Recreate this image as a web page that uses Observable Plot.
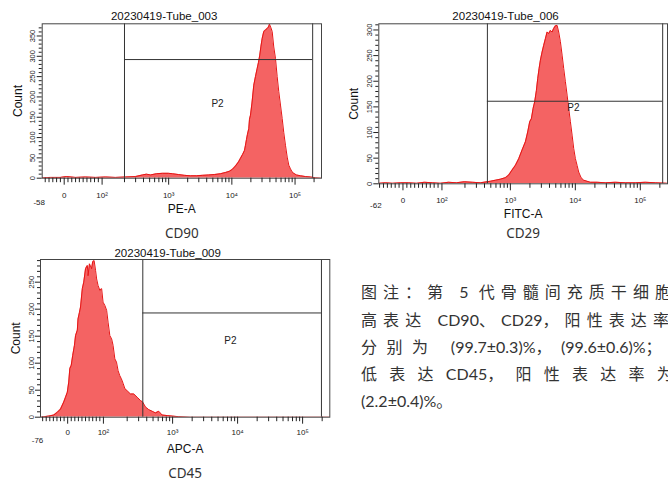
<!DOCTYPE html>
<html><head><meta charset="utf-8">
<script src="https://cdn.jsdelivr.net/npm/d3@7"></script>
<script src="https://cdn.jsdelivr.net/npm/@observablehq/plot@0.6"></script>
<style>
html,body{margin:0;padding:0;background:#fff;}
#root{position:relative;width:668px;height:480px;overflow:hidden;background:#fff;}
.panel{position:absolute;}
.cap{position:absolute;left:361px;width:max-content;white-space:pre;font-family:"Lato","Noto Sans CJK SC",sans-serif;font-size:16px;color:#333;line-height:20px;}
</style></head><body><div id="root"></div>
<script>
// ---------------- data ----------------
const cd90X = [-57,-36,-10,6,30,56,83,109,144,207,299,385,446,516,642,799,994,1150,1430,1780,2215,2757,3430,4268,5312,6610,7929,9174,10233,11413,12733,13699,14731,15843,16432,17040,17670,18530,19011,19715,20826,22233,23650,25170,26390,27670,28900,30200,32000,34050,35970,37990,39400,41600,43460,46070,49020,52150,55270,58820,62580,66330,70570,75090,79600,84680,89410,95480,105340,121900,146200,175500,209800,262000];
const cd90Count = [1,2,2,4,2,3,2,3,2,3,4,8,10,8,11,12,12,11,9,7,6,6,7,8,9,11,14,17,22,30,40,49,58,68,81,95,108,122,145,155,185,229,250,270,285,303,325,344,361,365,368,372,379,370,361,323,295,250,213,180,147,112,81,52,32,23,16,12,8,6,4,3,1,0];

const cd29X = [-61,-45,-27,-6,14,35,55,76,96,117,148,196,261,346,439,493,589,703,839,943,1064,1196,1345,1516,1705,1849,1985,2108,2239,2370,2517,2636,2770,2900,3080,3260,3462,3677,3891,4133,4390,4645,4933,5240,5545,5890,6255,6620,7031,7468,7904,8395,8917,9434,10020,10640,11260,12260,13450,17040,21610,29000,41330,58900,83900,119600,170400,258000];
const cd29Count = [1,2,1,2,2,1,3,2,1,3,2,4,3,2,4,5,7,9,12,17,27,36,49,66,82,101,121,127,147,160,182,205,225,241,257,270,283,296,293,299,296,303,308,309,296,277,251,225,199,173,147,121,95,69,49,36,23,12,7,3,3,2,3,2,2,3,2,1];

const cd45X = [-76,-53,-39,-29,-20,-11,-6,-1,3,6,10,14,19,22,27,29,33,36,41,45,50,55,57,61,67,70,74,78,81,85,90,95,99,104,109,113,118,123,127,132,137,145,154,163,174,184,200,225,253,285,320,347,382,430,485,545,612,691,825,984,1244,1883,262000];
const cd45Count = [0,2,4,9,15,28,37,46,65,90,96,114,133,151,161,182,194,204,238,250,275,281,262,284,275,288,290,272,256,244,235,238,213,207,198,176,151,145,133,108,102,86,77,71,62,53,49,43,43,37,31,28,19,14,11,8,11,4,3,2,1,0,0];

const titles = ["20230419-Tube_003","20230419-Tube_006","20230419-Tube_009"];
const xLabels = ["PE-A","FITC-A","APC-A"];
const markers = ["CD90","CD29","CD45"];
const xMins = [-58,-62,-76];
const xMax = 262143;
const yMaxes = [380,312,292];
const gateXs = [[200,190000],[443,221000],[348,195000]];
const gateYs = [292,161,193];
const p2Pos = [[5924,184],[9333,149],[7762,142]];
const majorX = [0,100,1000,10000,100000];
const majorXLabels = ["0","10\u00B2","10\u00B3","10\u2074","10\u2075"];
const yMajorTicks = [[0,50,100,150,200,250,300,350],[0,50,100,150,200,250,300],[0,50,100,150,200,250]];
const captionLines = ["图注：第 5 代骨髓间充质干细胞","高表达 CD90、CD29，阳性表达率","分别为 (99.7±0.3)%，(99.6±0.6)%；","低 表 达 CD45， 阳 性 表 达 率 为","(2.2±0.4)%。"];

// ---------------- layout ----------------
const layout = [
  {left:0, top:0, width:330, height:240, mL:41.7, mR:9, mT:23.3, mB:62.3, s:0.006, x0:125, tdx:-17.7, tdy:-7.3, cdx:-24.4, ldy:30.6, mdy:55, lab:14, minLab:21.6},
  {left:330, top:0, width:338, height:240, mL:48.3, mR:1, mT:23.3, mB:56.7, s:0.006, x0:125, tdx:-17.6, tdy:-7.3, cdx:-25, ldy:30, mdy:50, lab:13.4, minLab:18.4},
  {left:0, top:240, width:340, height:240, mL:40, mR:10.7, mT:19, mB:63.3, s:0.0055, x0:136, tdx:-17.5, tdy:-6.3, cdx:-24, ldy:32.3, mdy:56.6, lab:12.6, minLab:20.6}
];
const series = [[cd90X,cd90Count],[cd29X,cd29Count],[cd45X,cd45Count]];

function makeT(s, x0) {
  const L = Math.log10(x0) - s * x0;
  return x => x < x0 ? s * x : Math.log10(x) - L;
}

const root = document.getElementById("root");
const sans = "Liberation Sans, Arial, sans-serif";

layout.forEach((L, i) => {
  const T = makeT(L.s, L.x0);
  const [xs, cs] = series[i];
  const data = xs.map((x, j) => ({x, c: cs[j]}));
  const minorX = [];
  for (let v = -70; v < 100; v += 10) if (v !== 0 && v > xMins[i]) minorX.push(v);
  for (const dec of [100, 1000, 10000, 100000]) for (let k = 2; k <= 9; k++) if (k * dec <= xMax) minorX.push(k * dec);
  const yMinor = [];
  for (let v = 10; v < yMaxes[i]; v += 10) if (v % 50) yMinor.push(v);
  // tick lengths below the frame, expressed in count units of the y scale
  const perPx = yMaxes[i] / (L.height - L.mT - L.mB);
  const svg = Plot.plot({
    width: L.width, height: L.height,
    marginLeft: L.mL, marginRight: L.mR, marginTop: L.mT, marginBottom: L.mB,
    style: {fontFamily: sans, color: "#222", background: "white", overflow: "visible"},
    x: {type: "linear", transform: T, domain: [T(xMins[i]), T(xMax)], label: null, axis: null},
    y: {domain: [0, yMaxes[i]], label: null},
    marks: [
      Plot.areaY(data, {x: "x", y: "c", fill: "#f46363", curve: "linear", clip: true}),
      Plot.lineY(data, {x: "x", y: "c", stroke: "#e51515", strokeWidth: 1, clip: true}),
      Plot.ruleX(gateXs[i], {stroke: "#333", strokeWidth: 1}),
      Plot.ruleY([gateYs[i]], {x1: gateXs[i][0], x2: gateXs[i][1], stroke: "#333", strokeWidth: 1}),
      Plot.text([p2Pos[i]], {x: d => d[0], y: d => d[1], text: () => "P2", fontSize: 10, fill: "#222"}),
      Plot.frame({stroke: "#444"}),
      Plot.axisY({ticks: yMajorTicks[i], tickSize: 5, tickPadding: 2, tickRotate: -90, fontSize: 7.5, label: null}),
      Plot.axisY({ticks: yMinor, tickSize: 3, tickFormat: () => "", label: null}),
      Plot.ruleX(majorX, {x: d => d, y1: 0, y2: -7 * perPx, stroke: "#222"}),
      Plot.ruleX(minorX, {x: d => d, y1: 0, y2: -4.5 * perPx, stroke: "#222"}),
      Plot.text(majorX, {x: d => d, text: (d, j) => majorXLabels[j], frameAnchor: "bottom", lineAnchor: "top", dy: L.lab, fontSize: 8, fill: "#222"}),
      Plot.text([xMins[i]], {x: d => d, text: d => String(d), frameAnchor: "bottom", lineAnchor: "top", dy: L.minLab, dx: -3, fontSize: 8, fill: "#222"}),
      Plot.text([titles[i]], {text: d => d, frameAnchor: "top", lineAnchor: "middle", dx: L.tdx, dy: L.tdy, fontSize: 11.5, fill: "#111"}),
      Plot.text(["Count"], {text: d => d, frameAnchor: "left", lineAnchor: "middle", textAnchor: "middle", dx: L.cdx, rotate: -90, fontSize: 12, fill: "#111"}),
      Plot.text([xLabels[i]], {text: d => d, frameAnchor: "bottom", lineAnchor: "middle", dy: L.ldy, fontSize: 12, fill: "#111"}),
      Plot.text([markers[i]], {text: d => d, frameAnchor: "bottom", lineAnchor: "middle", dy: L.mdy, fontSize: 13.5, fontFamily: "Noto Sans, Open Sans, sans-serif", fill: "#333"})
    ]
  });
  const div = document.createElement("div");
  div.className = "panel";
  div.style.left = L.left + "px";
  div.style.top = L.top + "px";
  div.appendChild(svg);
  root.appendChild(div);
});

// caption: justified lines, extra space distributed between CJK characters and spaces only
const capTops = [282, 310, 337, 364, 391];
const capWidths = [316, 314, 310, 316, 0];
const cjk = /[\u3000-\u303f\u4e00-\u9fff\uff00-\uffef ]/;
captionLines.forEach((t, i) => {
  const d = document.createElement("div");
  d.className = "cap";
  d.style.top = capTops[i] + "px";
  const js = [];
  for (const ch of t) {
    const s = document.createElement("span");
    s.textContent = ch;
    if (cjk.test(ch)) js.push(s);
    d.appendChild(s);
  }
  root.appendChild(d);
  if (capWidths[i] && js.length) {
    const w0 = d.getBoundingClientRect().width;
    const sp = (capWidths[i] - w0) / js.length;
    js.forEach(s => s.style.letterSpacing = sp + "px");
  }
});
</script></body></html>
